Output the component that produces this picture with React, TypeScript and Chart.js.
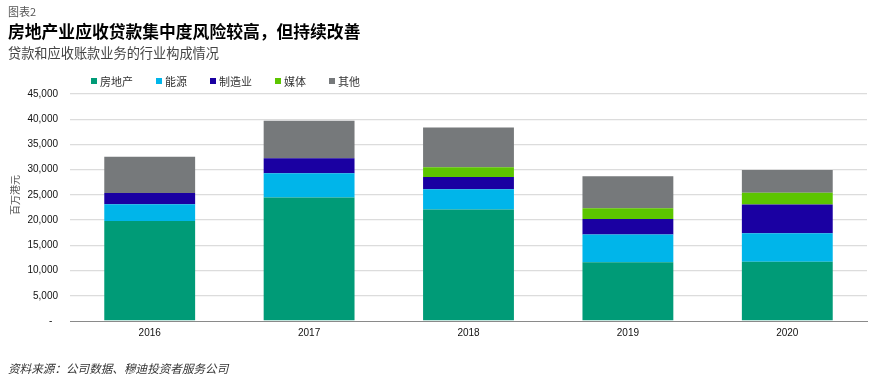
import React, { useEffect, useRef } from "react";
import { Chart, registerables } from "chart.js";

Chart.register(...registerables);

const years = ["2016", "2017", "2018", "2019", "2020"];
const seriesNames = ["房地产", "能源", "制造业", "媒体", "其他"];
const realEstate = [19800, 24500, 22100, 11650, 11750];
const energy = [3330, 4800, 4000, 5500, 5650];
const manufacturing = [2250, 2950, 2450, 3050, 5700];
const media = [0, 0, 1950, 2150, 2300];
const others = [7180, 7430, 7850, 6350, 4550];
const seriesColors = ["#009B77", "#00B5EA", "#1A00A2", "#5CC500", "#76797B"];
const yTicks = [0, 5000, 10000, 15000, 20000, 25000, 30000, 35000, 40000, 45000];

const cjk = '"Noto Sans CJK SC", "Liberation Sans", sans-serif';
const latin = '"Liberation Sans", Arial, "Noto Sans CJK SC", sans-serif';

export default function App() {
  const ref = useRef<HTMLCanvasElement | null>(null);

  useEffect(() => {
    if (!ref.current) return;
    const values = [realEstate, energy, manufacturing, media, others];
    const chart = new Chart(ref.current, {
      type: "bar",
      data: {
        labels: years,
        datasets: seriesNames.map((name, i) => ({
          label: name,
          data: values[i],
          backgroundColor: seriesColors[i],
          borderWidth: 0,
          barPercentage: 0.57,
          categoryPercentage: 1.0,
        })),
      },
      options: {
        responsive: false,
        animation: false,
        devicePixelRatio: 1,
        layout: { padding: { top: 94, bottom: 32, left: 8, right: 9 } },
        plugins: {
          legend: { display: false },
          tooltip: { enabled: false },
          title: { display: false },
        },
        scales: {
          x: {
            stacked: true,
            grid: { display: false, drawTicks: false },
            border: { display: true, color: "#8a8a8a", width: 1 },
            ticks: {
              padding: 6,
              color: "#111",
              font: { family: latin, size: 10 },
            },
          },
          y: {
            stacked: true,
            min: 0,
            max: 45000,
            afterFit: (scale: any) => {
              scale.width = 62;
            },
            afterBuildTicks: (scale: any) => {
              scale.ticks = yTicks.map((v) => ({ value: v }));
            },
            grid: {
              drawTicks: false,
              color: (ctx: any) => (ctx.tick && ctx.tick.value === 0 ? "rgba(0,0,0,0)" : "#DCDCDC"),
              lineWidth: 1.3,
            },
            border: { display: false },
            ticks: {
              padding: 12,
              color: "#111",
              font: { family: latin, size: 10 },
              callback: (v: any) => (Number(v) === 0 ? "-  " : Number(v).toLocaleString("en-US")),
            },
          },
        },
      },
    });
    return () => chart.destroy();
  }, []);

  return (
    <div style={{ position: "absolute", left: 0, top: 0, width: 876, height: 377, background: "#fff", overflow: "hidden" }}>
      <canvas ref={ref} width={876} height={377} style={{ position: "absolute", left: 0, top: 0 }} />
      <div style={{ position: "absolute", left: 8, top: 3, fontFamily: cjk, fontSize: 11, color: "#555", lineHeight: "16px" }}>
        图表2
      </div>
      <div style={{ position: "absolute", left: 8, top: 20, fontFamily: cjk, fontSize: 16.8, fontWeight: 700, color: "#000", lineHeight: "22px", whiteSpace: "nowrap" }}>
        房地产业应收贷款集中度风险较高，但持续改善
      </div>
      <div style={{ position: "absolute", left: 8, top: 44, fontFamily: cjk, fontSize: 13.2, color: "#444", lineHeight: "18px", whiteSpace: "nowrap" }}>
        贷款和应收账款业务的行业构成情况
      </div>
      <div style={{ position: "absolute", left: 91, top: 73, display: "flex", gap: 23, fontFamily: cjk, fontSize: 11, color: "#333", lineHeight: "16px" }}>
        {seriesNames.map((n, i) => (
          <div key={n} style={{ display: "flex", alignItems: "center" }}>
            <span style={{ display: "inline-block", width: 6, height: 6, background: seriesColors[i], marginRight: 3 }} />
            <span>{n}</span>
          </div>
        ))}
      </div>
      <div
        style={{
          position: "absolute",
          left: 15,
          top: 195,
          transform: "translate(-50%, -50%) rotate(-90deg)",
          fontFamily: cjk,
          fontSize: 10,
          color: "#555",
          whiteSpace: "nowrap",
          lineHeight: "12px",
        }}
      >
        百万港元
      </div>
      <div style={{ position: "absolute", left: 8, top: 360, fontFamily: cjk, fontSize: 11.6, fontStyle: "italic", color: "#333", lineHeight: "16px", whiteSpace: "nowrap" }}>
        资料来源：公司数据、穆迪投资者服务公司
      </div>
    </div>
  );
}
